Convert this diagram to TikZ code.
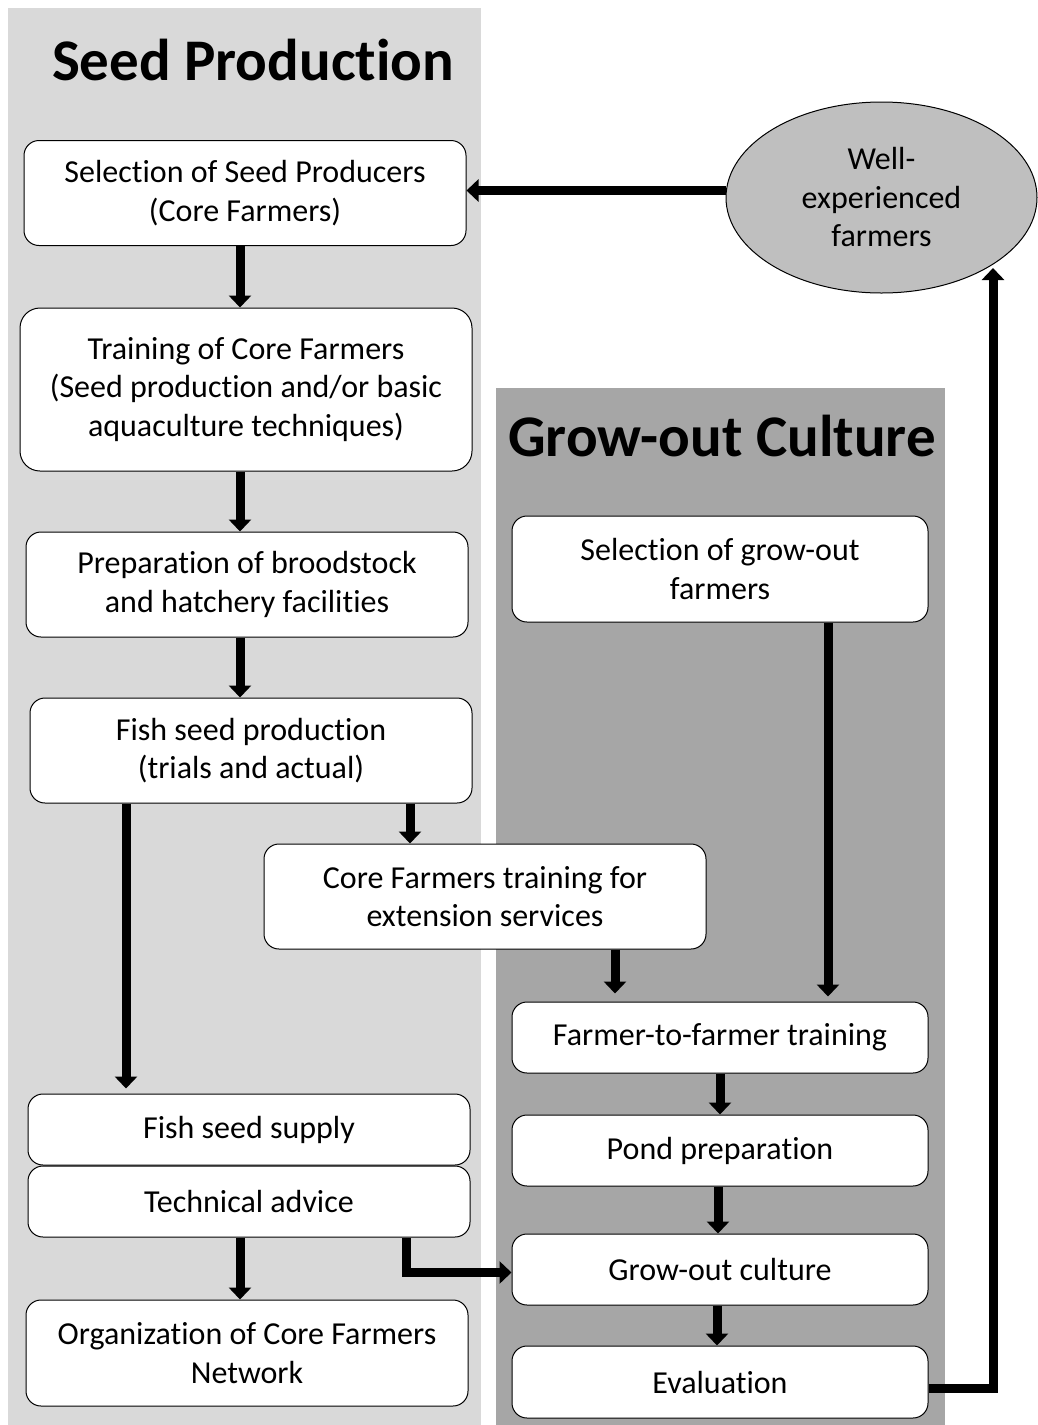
\documentclass[tikz,border=0pt]{standalone}
\usepackage{fontspec}
\setmainfont{Carlito}[Ligatures=NoCommon]
\usetikzlibrary{arrows.meta,shapes.geometric}
\definecolor{panelA}{HTML}{D9D9D9}
\definecolor{panelB}{HTML}{A6A6A6}
\definecolor{ellfill}{HTML}{BFBFBF}
\tikzset{
  box/.style={draw=black, line width=1pt, fill=white, rounded corners=15pt, align=center,
    minimum width=442pt, minimum height=105pt, inner sep=0pt,
    font=\fontsize{32pt}{38.5pt}\selectfont},
  flowarrow/.style={line width=9pt, -{Triangle[width=22pt,length=12pt]}},
  paneltitle/.style={font=\fontsize{59pt}{63pt}\selectfont\bfseries, inner sep=0pt, anchor=base}
}
\begin{document}
\begin{tikzpicture}[x=1pt,y=-1pt]
\useasboundingbox (0,0) rectangle (1038,1425);
\begin{scope}
\clip (0,0) rectangle (1038,1425);
% panels
\fill[panelA] (8,8) rectangle (481,1425);
\fill[panelB] (496,388) rectangle (945,1425);
\node[paneltitle] (t1) at (253,80) {Seed Production};
\node[paneltitle] (t2) at (722,456) {Grow-out Culture};

% ellipse
\node[ellipse, draw=black, line width=1pt, fill=ellfill, minimum width=311pt, minimum height=191pt,
  inner sep=0pt, align=center, font=\fontsize{32pt}{38.5pt}\selectfont] (ell) at (881.5,197.5)
  {Well-\\experienced\\farmers};

% boxes
\node[box] (b1) at (245,193) {Selection of Seed Producers\\(Core Farmers)};
\node[box, minimum width=452pt, minimum height=163pt, rounded corners=20pt] (b2) at (246,389.5)
  {Training of Core Farmers\\(Seed production and/or basic\\aquaculture techniques)};
\node[box] (b3) at (247,584.5) {Preparation of broodstock\\and hatchery facilities};
\node[box] (b4) at (251,750.5) {Fish seed production\\(trials and actual)};
\node[box] (b5) at (485,896.5) {Core Farmers training for\\extension services};
\node[box, minimum height=71pt] (b6) at (249,1129.5) {Fish seed supply};
\node[box, minimum height=71pt] (b7) at (249,1201.5) {Technical advice};
\node[box, minimum height=106pt] (b8) at (247,1353) {Organization of Core Farmers\\Network};

\node[box, minimum width=416pt, minimum height=106pt] (g1) at (720,569) {Selection of grow-out\\farmers};
\node[box, minimum width=416pt, minimum height=71pt] (g2) at (720,1037.5) {Farmer-to-farmer training};
\node[box, minimum width=416pt, minimum height=71pt] (g3) at (720,1150.5) {Pond preparation};
\node[box, minimum width=416pt, minimum height=71pt] (g4) at (720,1269.5) {Grow-out culture};
\node[box, minimum width=416pt, minimum height=72pt] (g5) at (720,1382) {Evaluation};

\coordinate (ellin) at (993,268);

% connectors
\draw[flowarrow] ([yshift=7pt]ell.west) -- ([yshift=7pt]ell.west -| b1.east);
\draw[flowarrow] (240,0 |- b1.south) -- (240,0 |- b2.north);
\draw[flowarrow] (240,0 |- b2.south) -- (240,0 |- b3.north);
\draw[flowarrow] (240,0 |- b3.south) -- (240,0 |- b4.north);
\draw[flowarrow] (410,0 |- b4.south) -- (410,0 |- b5.north);
\draw[flowarrow] (126,0 |- b4.south) -- ([yshift=5pt]126,0 |- b6.north);
\draw[flowarrow] (615,0 |- b5.south) -- ([yshift=8pt]615,0 |- g2.north);
\draw[flowarrow] (828,0 |- g1.south) -- ([yshift=5pt]828,0 |- g2.north);
\draw[flowarrow] (720,0 |- g2.south) -- (720,0 |- g3.north);
\draw[flowarrow] (718,0 |- g3.south) -- (718,0 |- g4.north);
\draw[flowarrow] (717,0 |- g4.south) -- (717,0 |- g5.north);
\draw[flowarrow] (240,0 |- b7.south) -- (240,0 |- b8.north);
\draw[flowarrow] (406,0 |- b7.south) |- ([yshift=-3pt]g4.west);
\draw[flowarrow] ([yshift=-6pt]g5.east) -| (ellin);
\end{scope}
\end{tikzpicture}
\end{document}
